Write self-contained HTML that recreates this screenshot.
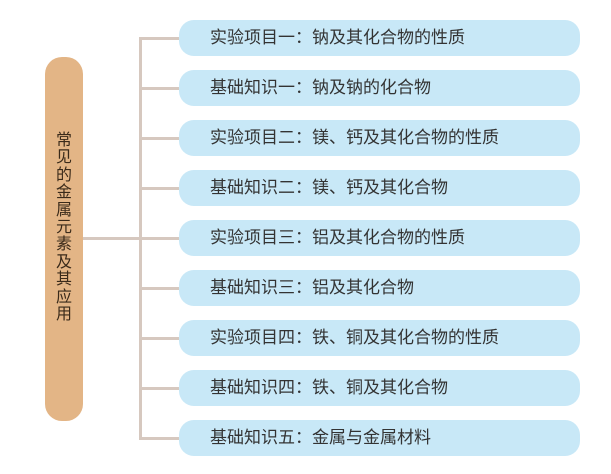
<!DOCTYPE html>
<html><head><meta charset="utf-8"><style>
body{margin:0;width:611px;height:474px;background:#fff;position:relative;overflow:hidden;font-family:"Liberation Sans","Noto Sans CJK SC",sans-serif;}
.bar{position:absolute;left:45px;top:57px;width:38px;height:364px;background:#E3B586;border-radius:17px;}
.vt{position:absolute;left:45px;width:38px;top:132px;text-align:center;font-size:16px;line-height:17.4px;color:#3a2a1a;}
.ln{position:absolute;background:#D6C8BF;}
.box{position:absolute;left:179px;width:401px;height:36px;background:#C8E8F7;border-radius:15px;font-size:17px;line-height:36px;color:#333;padding-left:31px;box-sizing:border-box;}
</style></head><body>
<div class="bar"></div>
<div class="vt">常<br>见<br>的<br>金<br>属<br>元<br>素<br>及<br>其<br>应<br>用</div>
<div class="ln" style="left:83px;top:237px;width:58px;height:3px"></div>
<div class="ln" style="left:139px;top:37px;width:3px;height:403px"></div>
<div class="ln" style="left:139px;top:37px;width:40px;height:3px"></div>
<div class="ln" style="left:139px;top:87px;width:40px;height:3px"></div>
<div class="ln" style="left:139px;top:137px;width:40px;height:3px"></div>
<div class="ln" style="left:139px;top:187px;width:40px;height:3px"></div>
<div class="ln" style="left:139px;top:237px;width:40px;height:3px"></div>
<div class="ln" style="left:139px;top:287px;width:40px;height:3px"></div>
<div class="ln" style="left:139px;top:337px;width:40px;height:3px"></div>
<div class="ln" style="left:139px;top:387px;width:40px;height:3px"></div>
<div class="ln" style="left:139px;top:437px;width:40px;height:3px"></div>
<div class="box" style="top:20px">实验项目一：钠及其化合物的性质</div>
<div class="box" style="top:70px">基础知识一：钠及钠的化合物</div>
<div class="box" style="top:120px">实验项目二：镁、钙及其化合物的性质</div>
<div class="box" style="top:170px">基础知识二：镁、钙及其化合物</div>
<div class="box" style="top:220px">实验项目三：铝及其化合物的性质</div>
<div class="box" style="top:270px">基础知识三：铝及其化合物</div>
<div class="box" style="top:320px">实验项目四：铁、铜及其化合物的性质</div>
<div class="box" style="top:370px">基础知识四：铁、铜及其化合物</div>
<div class="box" style="top:420px">基础知识五：金属与金属材料</div>
</body></html>
